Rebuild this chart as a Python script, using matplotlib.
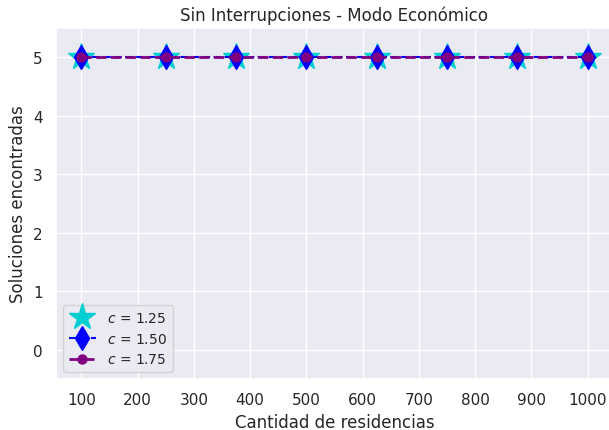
import matplotlib
matplotlib.use("Agg")
import matplotlib.pyplot as plt
import seaborn as sns

sns.set_theme(style="darkgrid")
plt.rcParams['font.family'] = ['DejaVu Sans']

# Cantidad de residencias y soluciones encontradas
residencias = [100, 250, 375, 500, 625, 750, 875, 1000]
sol_125 = [5, 5, 5, 5, 5, 5, 5, 5]
sol_150 = [5, 5, 5, 5, 5, 5, 5, 5]
sol_175 = [5, 5, 5, 5, 5, 5, 5, 5]
xticks = [100, 200, 300, 400, 500, 600, 700, 800, 900, 1000]

fig = plt.figure(figsize=(6.09, 4.31), dpi=100)
ax = fig.add_axes([56 / 609, 51 / 431, 557 / 609, 351 / 431])
ax.plot(residencias, sol_125, linestyle='', marker='*', markersize=20,
        color='darkturquoise', label='$c$ = 1.25')
ax.plot(residencias, sol_150, linestyle='--', marker='d', markersize=12,
        color='blue', label='$c$ = 1.50')
ax.plot(residencias, sol_175, linestyle='--', marker='o', markersize=6.5,
        linewidth=2, color='purple', label='$c$ = 1.75')

ax.set_ylim(-0.5, 5.5)
ax.set_xlim(55, 1045)
ax.set_xticks(xticks)
ax.set_yticks([0, 1, 2, 3, 4, 5])
ax.tick_params(labelsize=11)
ax.set_title('Sin Interrupciones - Modo Económico', fontsize=12)
ax.set_xlabel('Cantidad de residencias', fontsize=12)
ax.set_ylabel('Soluciones encontradas', fontsize=12)
ax.legend(loc='lower left', fontsize=10)

fig.savefig('out.png')
